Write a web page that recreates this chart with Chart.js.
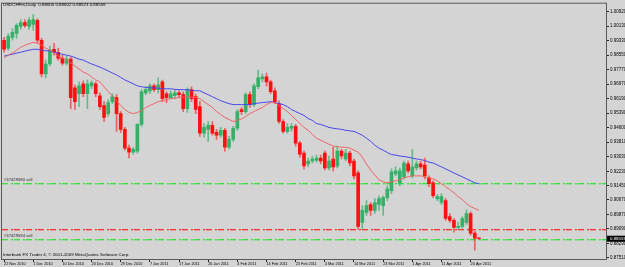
<!DOCTYPE html>
<html><head><meta charset="utf-8">
<script src="https://cdn.jsdelivr.net/npm/chart.js@4"></script>
<style>html,body{margin:0;padding:0;background:#d4d4d4;overflow:hidden}#wrap{position:relative;width:625px;height:267px}</style>
</head><body><div id="wrap"><canvas id="c" width="625" height="267"></canvas></div>
<script>
// ---- data ----
const dateTicks = ['22 Nov 2010','1 Dec 2010','10 Dec 2010','20 Dec 2010','29 Dec 2010','7 Jan 2011','17 Jan 2011','26 Jan 2011','4 Feb 2011','14 Feb 2011','23 Feb 2011','4 Mar 2011','14 Mar 2011','23 Mar 2011','1 Apr 2011','11 Apr 2011','20 Apr 2011'];
const opens = [0.9936,0.9893,0.9952,0.9973,1.0011,1.0033,1.0011,1.0022,1.0044,0.9936,0.9753,0.9807,0.9887,0.9871,0.9839,0.9812,0.9833,0.9677,0.9645,0.9699,0.9645,0.9688,0.9699,0.9634,0.9581,0.9537,0.9602,0.9624,0.9537,0.9451,0.9349,0.9327,0.9333,0.9478,0.9650,0.9661,0.9688,0.9667,0.9710,0.9645,0.9624,0.9634,0.9650,0.9640,0.9564,0.9667,0.9629,0.9575,0.9430,0.9451,0.9473,0.9435,0.9419,0.9446,0.9354,0.9397,0.9457,0.9559,0.9548,0.9640,0.9586,0.9683,0.9726,0.9737,0.9710,0.9661,0.9591,0.9494,0.9440,0.9457,0.9467,0.9376,0.9322,0.9263,0.9279,0.9284,0.9295,0.9322,0.9241,0.9290,0.9252,0.9333,0.9290,0.9322,0.9279,0.9214,0.8945,0.8999,0.9042,0.9010,0.9042,0.9036,0.9080,0.9117,0.9209,0.9160,0.9193,0.9263,0.9198,0.9241,0.9263,0.9257,0.9187,0.9160,0.9074,0.9053,0.9063,0.8977,0.8956,0.8918,0.8923,0.8945,0.8993,0.8886,0.88600];
const highs = [0.9952,0.9973,1.0000,1.0027,1.0049,1.0049,1.0060,1.0076,1.0054,0.9946,0.9828,0.9904,0.9920,0.9893,0.9855,0.9850,0.9844,0.9694,0.9710,0.9715,0.9720,0.9715,0.9710,0.9650,0.9602,0.9613,0.9645,0.9640,0.9548,0.9462,0.9365,0.9354,0.9483,0.9667,0.9683,0.9699,0.9699,0.9731,0.9720,0.9656,0.9661,0.9667,0.9661,0.9656,0.9677,0.9683,0.9645,0.9602,0.9483,0.9494,0.9494,0.9451,0.9462,0.9457,0.9413,0.9467,0.9559,0.9570,0.9650,0.9656,0.9699,0.9774,0.9753,0.9758,0.9720,0.9677,0.9607,0.9505,0.9483,0.9483,0.9478,0.9386,0.9333,0.9295,0.9306,0.9311,0.9311,0.9333,0.9306,0.9354,0.9360,0.9343,0.9343,0.9333,0.9290,0.9225,0.9036,0.9063,0.9053,0.9074,0.9090,0.9090,0.9144,0.9236,0.9247,0.9241,0.9279,0.9279,0.9343,0.9279,0.9279,0.9295,0.9198,0.9171,0.9096,0.9101,0.9074,0.8993,0.8966,0.8945,0.8977,0.9015,0.9004,0.8896,0.88602];
const lows = [0.9871,0.9882,0.9936,0.9946,0.9995,1.0006,0.9995,0.9990,0.9920,0.9737,0.9731,0.9796,0.9855,0.9828,0.9801,0.9801,0.9564,0.9559,0.9575,0.9629,0.9564,0.9672,0.9629,0.9559,0.9494,0.9521,0.9591,0.9440,0.9435,0.9338,0.9295,0.9316,0.9322,0.9467,0.9640,0.9645,0.9656,0.9650,0.9602,0.9597,0.9618,0.9618,0.9629,0.9548,0.9543,0.9602,0.9537,0.9413,0.9408,0.9386,0.9419,0.9397,0.9408,0.9333,0.9343,0.9386,0.9446,0.9532,0.9537,0.9570,0.9575,0.9672,0.9710,0.9688,0.9645,0.9591,0.9483,0.9430,0.9430,0.9440,0.9360,0.9300,0.9236,0.9247,0.9268,0.9273,0.9263,0.9230,0.9230,0.9225,0.9241,0.9290,0.9279,0.9252,0.9182,0.8907,0.8907,0.8983,0.8983,0.8993,0.9010,0.8983,0.9063,0.9101,0.9198,0.9144,0.9182,0.9214,0.9187,0.9230,0.9236,0.9182,0.9139,0.9080,0.9063,0.9042,0.8956,0.8945,0.8891,0.8907,0.8913,0.8934,0.8875,0.8794,0.88523];
const closes = [0.9887,0.9957,0.9979,1.0017,1.0033,1.0017,1.0044,1.0049,0.9936,0.9753,0.9807,0.9882,0.9871,0.9839,0.9812,0.9833,0.9624,0.9602,0.9688,0.9645,0.9699,0.9704,0.9645,0.9575,0.9516,0.9597,0.9629,0.9537,0.9451,0.9349,0.9327,0.9343,0.9478,0.9656,0.9667,0.9688,0.9667,0.9694,0.9618,0.9624,0.9645,0.9650,0.9640,0.9564,0.9667,0.9618,0.9559,0.9430,0.9462,0.9473,0.9430,0.9419,0.9446,0.9354,0.9397,0.9457,0.9548,0.9548,0.9640,0.9586,0.9688,0.9731,0.9737,0.9710,0.9656,0.9602,0.9494,0.9440,0.9462,0.9467,0.9376,0.9316,0.9252,0.9279,0.9290,0.9295,0.9279,0.9241,0.9279,0.9247,0.9333,0.9306,0.9322,0.9268,0.9198,0.8923,0.9010,0.9036,0.9010,0.9053,0.9074,0.9080,0.9128,0.9220,0.9225,0.9225,0.9268,0.9225,0.9247,0.9263,0.9247,0.9198,0.9155,0.9090,0.9085,0.9085,0.8966,0.8956,0.8918,0.8923,0.8966,0.8993,0.8886,0.8859,0.88559];
const maFast = [0.9839,0.9855,0.9866,0.9882,0.9898,0.9909,0.9917,0.9925,0.9920,0.9909,0.9893,0.9882,0.9866,0.9850,0.9839,0.9828,0.9812,0.9796,0.9780,0.9763,0.9753,0.9737,0.9720,0.9710,0.9683,0.9656,0.9634,0.9607,0.9581,0.9559,0.9543,0.9537,0.9543,0.9553,0.9570,0.9581,0.9591,0.9602,0.9607,0.9613,0.9618,0.9621,0.9624,0.9626,0.9629,0.9626,0.9624,0.9618,0.9602,0.9586,0.9570,0.9548,0.9532,0.9516,0.9505,0.9494,0.9500,0.9508,0.9521,0.9537,0.9548,0.9559,0.9570,0.9586,0.9597,0.9597,0.9581,0.9564,0.9548,0.9527,0.9505,0.9483,0.9462,0.9446,0.9424,0.9403,0.9392,0.9381,0.9370,0.9360,0.9357,0.9354,0.9354,0.9349,0.9338,0.9327,0.9300,0.9263,0.9230,0.9203,0.9176,0.9166,0.9160,0.9166,0.9171,0.9176,0.9187,0.9193,0.9198,0.9198,0.9198,0.9193,0.9187,0.9182,0.9171,0.9155,0.9139,0.9123,0.9106,0.9085,0.9069,0.9047,0.9031,0.9020,0.9010];
const maSlow = [0.9850,0.9855,0.9860,0.9866,0.9871,0.9877,0.9882,0.9887,0.9887,0.9882,0.9879,0.9877,0.9871,0.9866,0.9860,0.9855,0.9850,0.9842,0.9833,0.9828,0.9817,0.9807,0.9799,0.9790,0.9780,0.9769,0.9758,0.9747,0.9734,0.9720,0.9710,0.9699,0.9688,0.9683,0.9680,0.9677,0.9677,0.9675,0.9672,0.9672,0.9672,0.9669,0.9667,0.9667,0.9667,0.9664,0.9661,0.9661,0.9650,0.9640,0.9629,0.9618,0.9607,0.9599,0.9591,0.9586,0.9586,0.9586,0.9586,0.9586,0.9591,0.9594,0.9597,0.9599,0.9602,0.9597,0.9591,0.9586,0.9575,0.9559,0.9548,0.9537,0.9527,0.9510,0.9500,0.9483,0.9478,0.9470,0.9462,0.9457,0.9454,0.9451,0.9446,0.9443,0.9440,0.9430,0.9419,0.9403,0.9386,0.9365,0.9349,0.9338,0.9325,0.9314,0.9311,0.9306,0.9303,0.9300,0.9295,0.9290,0.9287,0.9281,0.9273,0.9268,0.9257,0.9247,0.9236,0.9225,0.9214,0.9203,0.9193,0.9182,0.9171,0.9160,0.9155];
const priceTicks = [1.00920,1.00130,0.99330,0.98550,0.97770,0.96970,0.96190,0.95390,0.94600,0.93810,0.93030,0.92230,0.91450,0.90670,0.89870,0.89090,0.88290,0.87510];
const orderLevels = [0.9159, 0.8911, 0.8856];
const orderKinds = ['sell', 'stop', 'sell'];
const orderTexts = ['#37429580 sell', '', '#37429594 sell'];
const lastPrice = 0.88559;
const headerText = 'USDCHFm,Daily  0.88600 0.88602 0.88523 0.88559';
const footerText = 'Interbank FX Trader 4, \u00A9 2001-2009 MetaQuotes Software Corp.';

// ---- build ----
const FONT = '"Liberation Sans", Arial, sans-serif';
const SLOTS = 145;
const nBars = opens.length;
const labels = Array.from({length: SLOTS}, (_, i) => (i < nBars && i % 7 === 0) ? (dateTicks[i / 7] || '') : '');
const bull = 'rgb(52,176,104)', bear = 'rgb(255,16,16)';
const bullW = 'rgba(52,176,104,0.7)', bearW = 'rgba(255,16,16,0.6)';
const isUp = opens.map((o, i) => closes[i] >= o);
const wickData = highs.map((h, i) => [lows[i], h]);
const bodyData = opens.map((o, i) => [o, closes[i]]);

function drawDashDot(ctx, x0, x1, py, color, halo) {
  const pattern = [[0, 6], [9, 2]];
  for (let x = x0; x < x1; x += 12) {
    for (const [off, len] of pattern) {
      const s = x + off;
      if (s >= x1) break;
      const w = Math.min(len, x1 - s);
      ctx.fillStyle = halo;
      ctx.fillRect(s, py + 1, w, 1);
      ctx.fillStyle = color;
      ctx.fillRect(s, py, w, 1);
    }
  }
}

const frameAndText = {
  id: 'mt4',
  beforeDraw(chart) {
    const ctx = chart.ctx;
    ctx.save();
    ctx.fillStyle = '#d4d4d4';
    ctx.fillRect(0, 0, chart.width, chart.height);
    ctx.restore();
  },
  beforeDatasetsDraw(chart) {
    const ctx = chart.ctx, a = chart.chartArea, y = chart.scales.y;
    ctx.save();
    for (let k = 0; k < orderLevels.length; k++) {
      const py = Math.round(y.getPixelForValue(orderLevels[k]));
      const stop = orderKinds[k] === 'stop';
      drawDashDot(ctx, Math.round(a.left), Math.round(a.right), py,
        stop ? '#ff3232' : '#3ce03c', stop ? 'rgba(255,80,80,0.4)' : 'rgba(70,225,70,0.4)');
      if (orderTexts[k]) {
        ctx.fillStyle = '#2a2a2a';
        ctx.font = '4.2px ' + FONT;
        ctx.textBaseline = 'bottom';
        ctx.fillText(orderTexts[k], a.left + 2, py - 1);
      }
    }
    ctx.restore();
  },
  afterDraw(chart) {
    const ctx = chart.ctx, a = chart.chartArea, y = chart.scales.y;
    ctx.save();
    ctx.strokeStyle = '#5a5a5a';
    ctx.lineWidth = 1;
    ctx.setLineDash([]);
    ctx.strokeRect(a.left - 0.5, a.top - 0.5, a.right - a.left + 1, a.bottom - a.top + 1);
    ctx.fillStyle = '#000';
    ctx.font = '4.4px ' + FONT;
    ctx.textBaseline = 'middle';
    ctx.fillText(headerText, a.left + 1, 5);
    ctx.fillText(footerText, a.left + 1, 255);
    const py = y.getPixelForValue(lastPrice);
    ctx.fillStyle = '#000';
    ctx.fillRect(a.right + 1, py - 3, chart.width - a.right, 6);
    ctx.fillStyle = '#fff';
    ctx.fillText(lastPrice.toFixed(5), a.right + 4, py);
    ctx.restore();
  }
};

new Chart(document.getElementById('c'), {
  type: 'bar',
  data: {
    labels,
    datasets: [
      { type: 'line', label: 'MA fast', data: maFast, borderColor: 'rgb(240,100,100)', borderWidth: 1, pointRadius: 0, tension: 0, order: 0 },
      { type: 'line', label: 'MA slow', data: maSlow, borderColor: 'rgb(72,72,236)', borderWidth: 1, pointRadius: 0, tension: 0, order: 0 },
      { label: 'body', data: bodyData, backgroundColor: isUp.map(u => u ? bull : bear), barThickness: 3, minBarLength: 1, grouped: false, order: 1 },
      { label: 'wick', data: wickData, backgroundColor: isUp.map(u => u ? bullW : bearW), barThickness: 1, grouped: false, order: 2 }
    ]
  },
  options: {
    responsive: false,
    animation: false,
    devicePixelRatio: 1,
    layout: { padding: { left: 2, top: 1, right: 0, bottom: 0 } },
    plugins: { legend: { display: false }, tooltip: { enabled: false } },
    scales: {
      x: {
        type: 'category', offset: true,
        grid: { display: true, drawOnChartArea: false, drawTicks: true, tickLength: 3, offset: false,
                color: c => (c.tick && c.tick.label) ? '#222' : 'rgba(0,0,0,0)' },
        border: { display: false },
        ticks: { autoSkip: false, maxRotation: 0, minRotation: 0, align: 'start', padding: 0,
                 font: { size: 3.8, family: FONT }, color: '#000' },
        afterFit: s => { s.height = 8; }
      },
      y: {
        position: 'right', min: 0.87455, max: 1.01351,
        afterBuildTicks: s => { s.ticks = priceTicks.map(v => ({ value: v })); },
        grid: { drawOnChartArea: false, drawTicks: true, tickLength: 3, color: '#222' },
        border: { display: false },
        ticks: { autoSkip: false, padding: 1, font: { size: 4.5, family: FONT }, color: '#000',
                 callback: v => Number(v).toFixed(5) },
        afterFit: s => { s.width = 19; }
      }
    }
  },
  plugins: [frameAndText]
});
</script></body></html>
